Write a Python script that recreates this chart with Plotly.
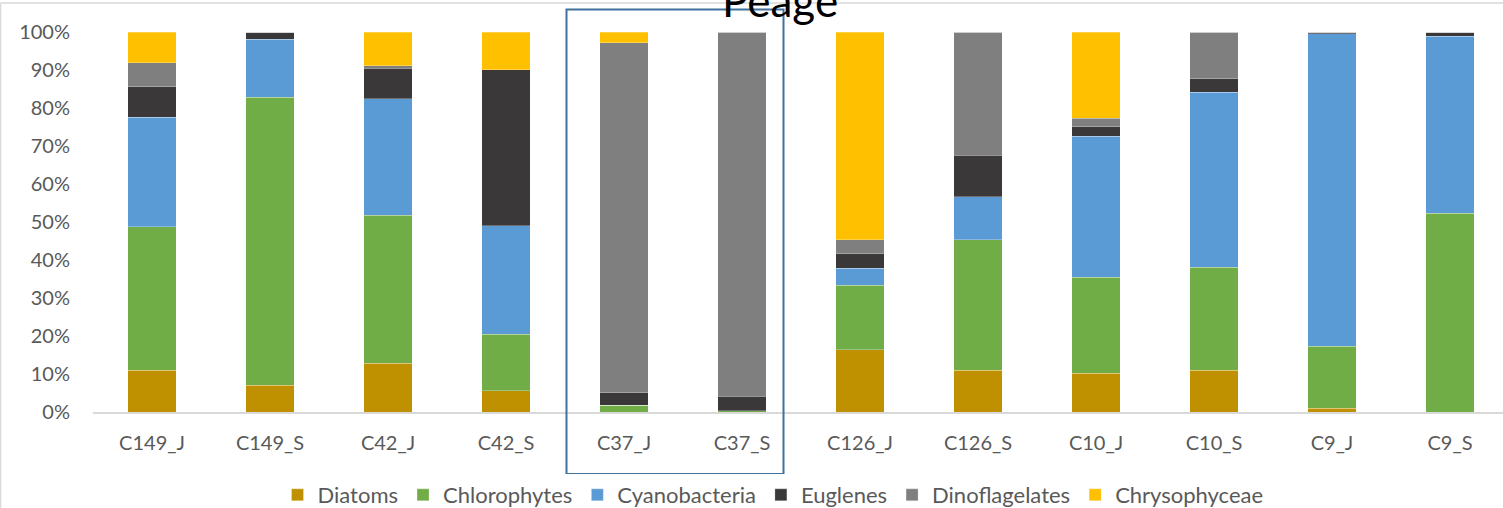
import plotly.graph_objects as go

categories = ["C149_J", "C149_S", "C42_J", "C42_S", "C37_J", "C37_S",
              "C126_J", "C126_S", "C10_J", "C10_S", "C9_J", "C9_S"]

diatoms       = [11.0, 7.0, 12.8, 5.6, 0.0, 0.0, 16.4, 11.0, 10.2, 11.0, 1.0, 0.0]
chlorophytes  = [37.8, 75.8, 39.0, 14.8, 1.8, 0.3, 16.9, 34.3, 25.2, 27.1, 16.3, 52.3]
cyanobacteria = [28.8, 15.3, 30.7, 28.6, 0.0, 0.0, 4.5, 11.3, 37.2, 46.1, 82.2, 46.6]
euglenes      = [8.0, 1.9, 7.9, 41.1, 3.3, 3.9, 3.9, 11.0, 2.5, 3.5, 0.5, 1.1]
dinoflagelates= [6.3, 0.0, 0.7, 0.0, 92.1, 95.8, 3.6, 32.4, 2.2, 12.3, 0.0, 0.0]
chrysophyceae = [8.1, 0.0, 8.9, 9.9, 2.8, 0.0, 54.7, 0.0, 22.7, 0.0, 0.0, 0.0]

series = [
    ("Diatoms", diatoms, "#BF9000"),
    ("Chlorophytes", chlorophytes, "#70AD47"),
    ("Cyanobacteria", cyanobacteria, "#5B9BD5"),
    ("Euglenes", euglenes, "#3A3838"),
    ("Dinoflagelates", dinoflagelates, "#7F7F7F"),
    ("Chrysophyceae", chrysophyceae, "#FFC000"),
]

title_text = "Peage"
font_family = "Lato, 'Open Sans', sans-serif"
text_color = "#595959"

fig = go.Figure()
for name, vals, col in series:
    fig.add_trace(go.Bar(
        x=categories, y=vals, name=name,
        marker=dict(color=col, line=dict(color="rgba(255,255,255,0.35)", width=0.8)),
    ))

W, H = 1503, 508
L, R, T, B = 93, 0, 32, 96
pw, ph = W - L - R, H - T - B
step = 118.0
xmax = pw / step - 0.5

def px_x(p):
    return (p - L) / pw

def px_y(p):
    return (H - B - p) / ph

fig.update_layout(
    width=W, height=H,
    margin=dict(l=L, r=R, t=T, b=B, autoexpand=False),
    barmode="stack",
    bargap=0.59,
    paper_bgcolor="white",
    plot_bgcolor="white",
    font=dict(family=font_family, size=20, color=text_color),
    showlegend=True,
    legend=dict(
        orientation="h", x=px_x(773), xanchor="center",
        y=px_y(495), yanchor="middle",
        font=dict(size=22, color=text_color),
        traceorder="normal",
        itemwidth=30,
    ),
    xaxis=dict(
        type="category",
        range=[-0.5, xmax],
        showgrid=False, zeroline=False,
        showline=True, linecolor="#D9D9D9", linewidth=1.5,
        ticks="", ticklabelstandoff=12,
        tickfont=dict(size=20, color=text_color),
        fixedrange=True,
    ),
    yaxis=dict(
        range=[0, 100],
        tickvals=[0, 10, 20, 30, 40, 50, 60, 70, 80, 90, 100],
        ticktext=["0%", "10%", "20%", "30%", "40%", "50%", "60%", "70%", "80%", "90%", "100%"],
        showgrid=False, zeroline=False, showline=False,
        ticks="", ticklabelstandoff=22,
        tickfont=dict(size=20, color=text_color),
        fixedrange=True,
    ),
)

# chart outer border (partially visible: left and top)
fig.add_shape(type="line", xref="paper", yref="paper",
              x0=px_x(0.5), x1=px_x(W + 5), y0=px_y(3), y1=px_y(3),
              line=dict(color="#D9D9D9", width=1.5), layer="below")
fig.add_shape(type="line", xref="paper", yref="paper",
              x0=px_x(0.5), x1=px_x(0.5), y0=px_y(3), y1=px_y(H + 5),
              line=dict(color="#D9D9D9", width=1.5), layer="below")

# highlight box around C37 bars
fig.add_shape(type="rect", xref="paper", yref="paper",
              x0=px_x(566.5), x1=px_x(783.5), y0=px_y(474), y1=px_y(9.5),
              line=dict(color="#41719C", width=2), fillcolor="rgba(0,0,0,0)")

# title (partially cut off at top, as in the reference)
fig.add_annotation(text=title_text, xref="paper", yref="paper",
                   x=px_x(780), y=px_y(0), xanchor="center", yanchor="middle",
                   showarrow=False, font=dict(size=44, color="#000000", family=font_family))

fig.write_html("out.html",
               config={"displayModeBar": False},
               post_script="document.body.style.margin='0';document.body.style.overflow='hidden';")
